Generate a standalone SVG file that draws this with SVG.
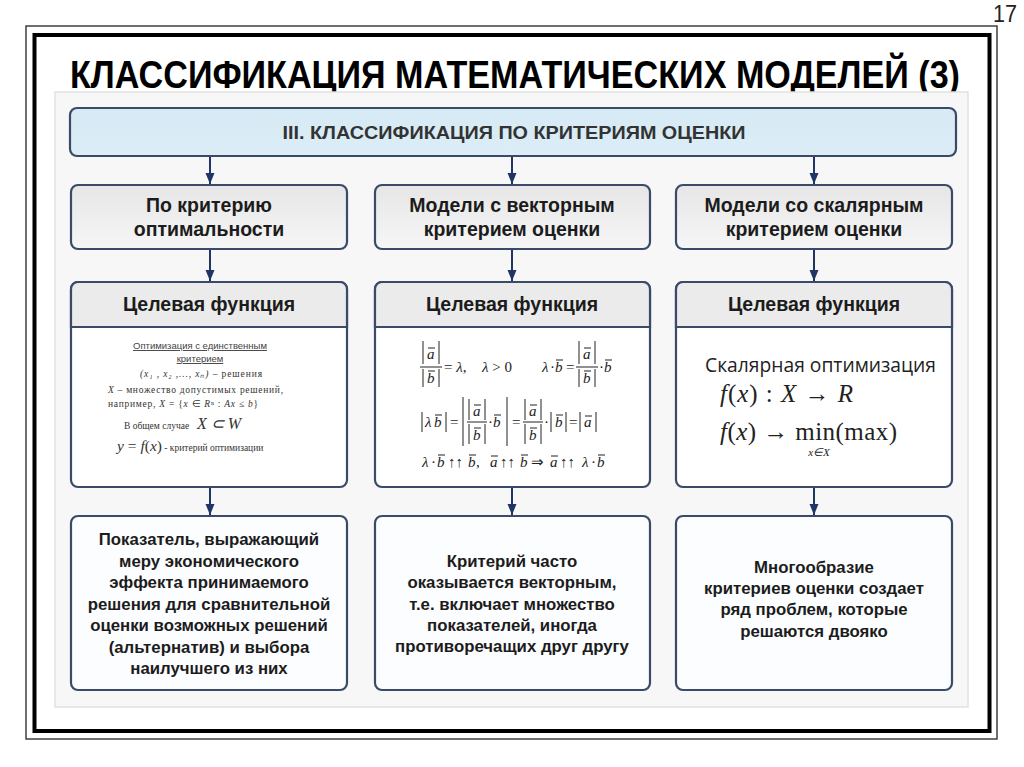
<svg xmlns="http://www.w3.org/2000/svg" width="1024" height="767" viewBox="0 0 1024 767">
<style>
.box{stroke:#3a4a68;stroke-width:2.2}
.b2{fill:url(#g2)}
.b3{fill:#ffffff}
.hdr{fill:#ebebeb}
.b4{fill:#fcfdff}
.t{font-family:"Liberation Sans",Arial,sans-serif;font-weight:bold;fill:#1c1c1c;text-anchor:middle}
.t18{font-size:19.5px}
.t16{font-size:16.8px}
.sm{font-family:"Liberation Sans",Arial,sans-serif;font-size:9.5px;fill:#444}
.se{font-family:"Liberation Serif","Times New Roman",serif;fill:#333}
.m{font-family:"Liberation Serif","Times New Roman",serif;font-style:italic;font-size:15px;fill:#222}
.mu{font-family:"Liberation Serif","Times New Roman",serif;font-size:15px;fill:#222}
.bar{stroke:#222;stroke-width:1}
.conn line{stroke:#1e3566;stroke-width:2}
</style>
<defs>
<linearGradient id="g2" x1="0" y1="0" x2="0" y2="1">
<stop offset="0" stop-color="#e6e6e6"/>
<stop offset="1" stop-color="#f6f6f6"/>
</linearGradient>
<linearGradient id="g1" x1="0" y1="0" x2="0" y2="1">
<stop offset="0" stop-color="#d6eaf5"/>
<stop offset="1" stop-color="#dcedf6"/>
</linearGradient>
<marker id="ah" markerUnits="userSpaceOnUse" markerWidth="12" markerHeight="12" viewBox="0 0 12 12" refX="11" refY="6" orient="auto">
<path d="M0,1.5 L11,6 L0,10.5 Z" fill="#1e3566"/>
</marker>
</defs>
<rect width="1024" height="767" fill="#ffffff"/>
<text x="1017" y="22" font-family="Liberation Sans,Arial,sans-serif" font-size="23" fill="#222" text-anchor="end" textLength="24" lengthAdjust="spacingAndGlyphs">17</text>
<rect x="26" y="26" width="971" height="713" fill="none" stroke="#333" stroke-width="1.4"/>
<rect x="34.5" y="35" width="955" height="696" fill="none" stroke="#000" stroke-width="4"/>
<text transform="translate(70,88) scale(1,1.14)" x="0" y="0" font-family="Liberation Sans,Arial,sans-serif" font-weight="bold" font-size="34" fill="#000" textLength="890" lengthAdjust="spacingAndGlyphs">КЛАССИФИКАЦИЯ МАТЕМАТИЧЕСКИХ МОДЕЛЕЙ (3)</text>
<rect x="55" y="92" width="913" height="615" fill="#f7f7f7" stroke="#e2e2e2" stroke-width="1.5"/>

<g id="top">
<rect class="box" x="70" y="108" width="886" height="48" rx="7" fill="url(#g1)"/>
<text x="514" y="139" font-family="Liberation Sans,Arial,sans-serif" font-weight="bold" font-size="18" fill="#333" text-anchor="middle" textLength="463" lengthAdjust="spacingAndGlyphs">III. КЛАССИФИКАЦИЯ ПО КРИТЕРИЯМ ОЦЕНКИ</text>
</g>

<g id="c1">
<rect class="box b2" x="71" y="185" width="276" height="64" rx="7"/>
<text class="t t18" x="209" y="212">По критерию</text>
<text class="t t18" x="209" y="236">оптимальности</text>
</g>
<g id="c2">
<rect class="box b2" x="375" y="185" width="275" height="64" rx="7"/>
<text class="t t18" x="512" y="212">Модели с векторным</text>
<text class="t t18" x="512" y="236">критерием оценки</text>
</g>
<g id="c3">
<rect class="box b2" x="676" y="185" width="276" height="64" rx="7"/>
<text class="t t18" x="814" y="212">Модели со скалярным</text>
<text class="t t18" x="814" y="236">критерием оценки</text>
</g>

<g id="f1">
<rect class="box b3" x="71" y="282" width="276" height="205" rx="7"/>
<path class="box hdr" d="M71,327 V289 a7,7 0 0 1 7,-7 H340 a7,7 0 0 1 7,7 V327 Z"/>
<text class="t t18" x="209" y="311">Целевая функция</text>
<text class="sm" x="200" y="349" text-anchor="middle" text-decoration="underline">Оптимизация с единственным</text>
<text class="sm" x="200" y="362" text-anchor="middle" text-decoration="underline">критерием</text>
<text class="se" x="140" y="377" font-size="9.5" textLength="122" lengthAdjust="spacing"><tspan font-style="italic">(x₁ , x₂ ,..., xₙ)</tspan> – решения</text>
<text class="se" x="108" y="393" font-size="9.5" textLength="175" lengthAdjust="spacing"><tspan font-style="italic">X</tspan> – множество   допустимых   решений,</text>
<text class="se" x="108" y="407" font-size="9.5" textLength="150" lengthAdjust="spacing">например,    <tspan font-style="italic">X</tspan> = {<tspan font-style="italic">x</tspan> ∈ <tspan font-style="italic">R</tspan>ⁿ : <tspan font-style="italic">Ax</tspan> ≤ <tspan font-style="italic">b</tspan>}</text>
<text class="se" x="124" y="429" font-size="9.5">В общем случае <tspan x="197" font-style="italic" font-size="16">X ⊂ W</tspan></text>
<text class="se" x="117" y="451" font-size="9.5"><tspan font-style="italic" font-size="15.5">y</tspan><tspan font-size="15.5"> = </tspan><tspan font-style="italic" font-size="15.5">f</tspan><tspan font-size="15.5">(</tspan><tspan font-style="italic" font-size="15.5">x</tspan><tspan font-size="15.5">)</tspan> - критерий оптимизации</text>
</g>

<g id="f2">
<rect class="box b3" x="375" y="282" width="275" height="205" rx="7"/>
<path class="box hdr" d="M375,327 V289 a7,7 0 0 1 7,-7 H643 a7,7 0 0 1 7,7 V327 Z"/>
<text class="t t18" x="512" y="311">Целевая функция</text>
<!-- row 1 -->
<line class="bar" x1="423" y1="341" x2="423" y2="364"/><line class="bar" x1="439" y1="341" x2="439" y2="364"/>
<text class="m" x="427" y="359">a</text><line class="bar" x1="428" y1="348" x2="435" y2="348"/>
<line class="bar" x1="420" y1="367" x2="442" y2="367"/>
<line class="bar" x1="423" y1="369" x2="423" y2="387"/><line class="bar" x1="439" y1="369" x2="439" y2="387"/>
<text class="m" x="427" y="383">b</text><line class="bar" x1="428" y1="371" x2="435" y2="371"/>
<text class="mu" x="444" y="372">= <tspan font-style="italic">λ</tspan>,</text>
<text class="mu" x="482" y="372"><tspan font-style="italic">λ</tspan> &gt; 0</text>
<text class="m" x="542" y="372">λ</text><text class="mu" x="550" y="372">·</text><text class="m" x="555" y="372">b</text><line class="bar" x1="556" y1="360" x2="563" y2="360"/>
<text class="mu" x="566" y="372">=</text>
<line class="bar" x1="579" y1="341" x2="579" y2="364"/><line class="bar" x1="595" y1="341" x2="595" y2="364"/>
<text class="m" x="583" y="359">a</text><line class="bar" x1="584" y1="348" x2="591" y2="348"/>
<line class="bar" x1="576" y1="367" x2="598" y2="367"/>
<line class="bar" x1="579" y1="369" x2="579" y2="387"/><line class="bar" x1="595" y1="369" x2="595" y2="387"/>
<text class="m" x="583" y="383">b</text><line class="bar" x1="584" y1="371" x2="591" y2="371"/>
<text class="mu" x="599" y="372">·</text><text class="m" x="604" y="372">b</text><line class="bar" x1="605" y1="360" x2="612" y2="360"/>
<!-- row 2 -->
<line class="bar" x1="422" y1="412" x2="422" y2="432"/>
<text class="m" x="425" y="427">λ</text><text class="m" x="434" y="427">b</text><line class="bar" x1="435" y1="415" x2="442" y2="415"/>
<line class="bar" x1="446" y1="412" x2="446" y2="432"/>
<text class="mu" x="450" y="427">=</text>
<line class="bar" x1="463" y1="397" x2="463" y2="446"/>
<line class="bar" x1="469" y1="399" x2="469" y2="420"/><line class="bar" x1="485" y1="399" x2="485" y2="420"/>
<text class="m" x="473" y="416">a</text><line class="bar" x1="474" y1="405" x2="481" y2="405"/>
<line class="bar" x1="467" y1="422" x2="487" y2="422"/>
<line class="bar" x1="469" y1="424" x2="469" y2="444"/><line class="bar" x1="485" y1="424" x2="485" y2="444"/>
<text class="m" x="473" y="440">b</text><line class="bar" x1="474" y1="428" x2="481" y2="428"/>
<text class="mu" x="488" y="427">·</text><text class="m" x="493" y="427">b</text><line class="bar" x1="494" y1="415" x2="501" y2="415"/>
<line class="bar" x1="507" y1="397" x2="507" y2="446"/>
<text class="mu" x="512" y="427">=</text>
<line class="bar" x1="525" y1="399" x2="525" y2="420"/><line class="bar" x1="541" y1="399" x2="541" y2="420"/>
<text class="m" x="529" y="416">a</text><line class="bar" x1="530" y1="405" x2="537" y2="405"/>
<line class="bar" x1="523" y1="422" x2="543" y2="422"/>
<line class="bar" x1="525" y1="424" x2="525" y2="444"/><line class="bar" x1="541" y1="424" x2="541" y2="444"/>
<text class="m" x="529" y="440">b</text><line class="bar" x1="530" y1="428" x2="537" y2="428"/>
<text class="mu" x="544" y="427">·</text>
<line class="bar" x1="551" y1="412" x2="551" y2="432"/>
<text class="m" x="555" y="427">b</text><line class="bar" x1="556" y1="415" x2="563" y2="415"/>
<line class="bar" x1="566" y1="412" x2="566" y2="432"/>
<text class="mu" x="569" y="427">=</text>
<line class="bar" x1="580" y1="412" x2="580" y2="432"/>
<text class="m" x="584" y="427">a</text><line class="bar" x1="585" y1="416" x2="592" y2="416"/>
<line class="bar" x1="596" y1="412" x2="596" y2="432"/>
<!-- row 3 -->
<text class="m" x="422" y="467">λ</text><text class="mu" x="431" y="467">·</text><text class="m" x="437" y="467">b</text><line class="bar" x1="438" y1="455" x2="445" y2="455"/>
<text class="mu" x="448" y="467">↑↑</text>
<text class="m" x="468" y="467">b</text><line class="bar" x1="469" y1="455" x2="476" y2="455"/><text class="mu" x="476" y="467">,</text>
<text class="m" x="490" y="467">a</text><line class="bar" x1="491" y1="456" x2="498" y2="456"/>
<text class="mu" x="500" y="467">↑↑</text>
<text class="m" x="520" y="467">b</text><line class="bar" x1="521" y1="455" x2="528" y2="455"/>
<text class="mu" x="531" y="467">⇒</text>
<text class="m" x="550" y="467">a</text><line class="bar" x1="551" y1="456" x2="558" y2="456"/>
<text class="mu" x="560" y="467">↑↑</text>
<text class="m" x="582" y="467">λ</text><text class="mu" x="591" y="467">·</text><text class="m" x="597" y="467">b</text><line class="bar" x1="598" y1="455" x2="605" y2="455"/>
</g>

<g id="f3">
<rect class="box b3" x="676" y="282" width="276" height="205" rx="7"/>
<path class="box hdr" d="M676,327 V289 a7,7 0 0 1 7,-7 H945 a7,7 0 0 1 7,7 V327 Z"/>
<text class="t t18" x="814" y="311">Целевая функция</text>
<text x="705" y="372" font-family="Open Sans,Liberation Sans,sans-serif" font-size="19.5" fill="#222" textLength="231" lengthAdjust="spacingAndGlyphs">Скалярная оптимизация</text>
<text x="720" y="402" font-family="Liberation Serif,Times New Roman,serif" font-size="25" fill="#222" textLength="133" lengthAdjust="spacing"><tspan font-style="italic">f</tspan>(<tspan font-style="italic">x</tspan>) : <tspan font-style="italic">X</tspan> → <tspan font-style="italic">R</tspan></text>
<text x="720" y="440" font-family="Liberation Serif,Times New Roman,serif" font-size="25" fill="#222" textLength="177" lengthAdjust="spacing"><tspan font-style="italic">f</tspan>(<tspan font-style="italic">x</tspan>) → min(max)</text>
<text x="819" y="456" font-family="Liberation Serif,Times New Roman,serif" font-size="11" font-style="italic" fill="#222" text-anchor="middle">x∈X</text>
</g>

<g id="d1">
<rect class="box b4" x="71" y="516" width="276" height="174" rx="7"/>
<text class="t t16" x="209" y="545">Показатель, выражающий</text>
<text class="t t16" x="209" y="567">меру экономического</text>
<text class="t t16" x="209" y="588">эффекта принимаемого</text>
<text class="t t16" x="209" y="610">решения для сравнительной</text>
<text class="t t16" x="209" y="631">оценки возможных решений</text>
<text class="t t16" x="209" y="653">(альтернатив) и выбора</text>
<text class="t t16" x="209" y="674">наилучшего из них</text>
</g>
<g id="d2">
<rect class="box b4" x="375" y="516" width="275" height="174" rx="7"/>
<text class="t t16" x="512" y="567">Критерий часто</text>
<text class="t t16" x="512" y="588">оказывается векторным,</text>
<text class="t t16" x="512" y="610">т.е. включает множество</text>
<text class="t t16" x="512" y="631">показателей, иногда</text>
<text class="t t16" x="512" y="652">противоречащих друг другу</text>
</g>
<g id="d3">
<rect class="box b4" x="676" y="516" width="276" height="174" rx="7"/>
<text class="t t16" x="814" y="573">Многообразие</text>
<text class="t t16" x="814" y="594">критериев оценки создает</text>
<text class="t t16" x="814" y="615">ряд проблем, которые</text>
<text class="t t16" x="814" y="637">решаются двояко</text>
</g>

<g class="conn" id="connectors">
<line x1="210" y1="157" x2="210" y2="184" marker-end="url(#ah)"/>
<line x1="512" y1="157" x2="512" y2="184" marker-end="url(#ah)"/>
<line x1="814" y1="157" x2="814" y2="184" marker-end="url(#ah)"/>
<line x1="210" y1="250" x2="210" y2="281" marker-end="url(#ah)"/>
<line x1="512" y1="250" x2="512" y2="281" marker-end="url(#ah)"/>
<line x1="814" y1="250" x2="814" y2="281" marker-end="url(#ah)"/>
<line x1="210" y1="488" x2="210" y2="515" marker-end="url(#ah)"/>
<line x1="512" y1="488" x2="512" y2="515" marker-end="url(#ah)"/>
<line x1="814" y1="488" x2="814" y2="515" marker-end="url(#ah)"/>
</g>
</svg>
